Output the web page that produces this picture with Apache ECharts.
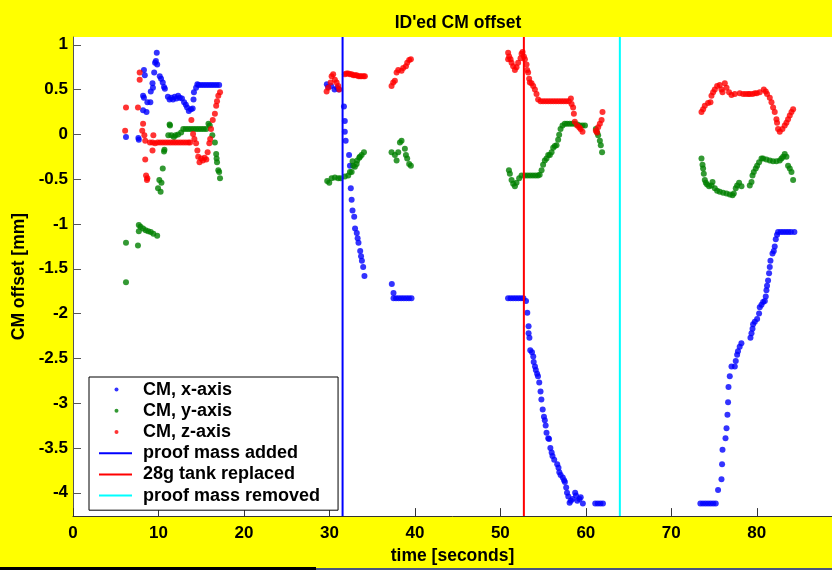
<!DOCTYPE html>
<html>
<head>
<meta charset="utf-8">
<script src="https://cdn.jsdelivr.net/npm/echarts@6/dist/echarts.min.js"></script>
<style>
  html, body { margin: 0; padding: 0; background: #ffff00; }
  #chart { width: 832px; height: 570px; }
</style>
</head>
<body>
<div id="chart"></div>
<script>
// values, [time s, offset mm]
const cmX = [
  [6.2, -0.03], [7.65, -0.04], [7.7, -0.06], [8.3, 0.72], [8.4, 0.66], [8.2, 0.43], [8.3, 0.41],
  [8.2, 0.27], [8.6, 0.25], [8.7, 0.36], [9.05, 0.36], [9.1, 0.48], [9.3, 0.57], [9.35, 0.52],
  [9.5, 0.69], [9.6, 0.80], [9.7, 0.82], [9.85, 0.78], [9.8, 0.91], [10.15, 0.65], [10.3, 0.62],
  [10.5, 0.58], [10.65, 0.53], [10.75, 0.51], [11.1, 0.42], [11.3, 0.39], [11.5, 0.41], [11.7, 0.39],
  [11.9, 0.42], [12.1, 0.40], [12.3, 0.43], [12.5, 0.41], [12.75, 0.40], [13.0, 0.36], [13.2, 0.33],
  [13.35, 0.30], [13.55, 0.26], [13.8, 0.28], [14.0, 0.29], [14.1, 0.39], [14.15, 0.47], [14.4, 0.52],
  [14.55, 0.56], [14.7, 0.55], [15.0, 0.55], [15.3, 0.55], [15.6, 0.55], [15.9, 0.55], [16.2, 0.55],
  [16.5, 0.55], [16.8, 0.55], [17.1, 0.55],
  [29.7, 0.56], [29.85, 0.53], [30.2, 0.54], [30.6, 0.50], [30.9, 0.52], [31.1, 0.50], [31.7, 0.31],
  [31.8, 0.15], [31.8, 0.03], [31.9, -0.07], [32.3, -0.23], [32.4, -0.35], [32.5, -0.60], [32.6, -0.73],
  [32.7, -0.85], [32.9, -0.92], [33.0, -1.05], [33.2, -1.10], [33.3, -1.16], [33.4, -1.21], [33.6, -1.30],
  [33.7, -1.36], [33.8, -1.41], [33.95, -1.48], [34.1, -1.58],
  [37.3, -1.67], [37.5, -1.77], [37.5, -1.83], [37.8, -1.83], [38.1, -1.83], [38.4, -1.83], [38.7, -1.83],
  [39.0, -1.83], [39.3, -1.83], [39.6, -1.83],
  [50.9, -1.83], [51.2, -1.83], [51.5, -1.83], [51.8, -1.83], [52.1, -1.83], [52.4, -1.83], [52.7, -1.83],
  [53.0, -1.86], [53.15, -1.99], [53.3, -2.14], [53.3, -2.22], [53.4, -2.27], [53.5, -2.41], [53.7, -2.43],
  [53.85, -2.48], [53.9, -2.54], [54.05, -2.59], [54.15, -2.63], [54.3, -2.67], [54.4, -2.70], [54.55, -2.77],
  [54.7, -2.87], [54.8, -2.96], [54.95, -3.07], [55.1, -3.15], [55.2, -3.19], [55.3, -3.25], [55.4, -3.33],
  [55.6, -3.39], [55.7, -3.40], [55.85, -3.50], [56.0, -3.55], [56.1, -3.59], [56.3, -3.63], [56.65, -3.68],
  [56.8, -3.72], [56.9, -3.77], [57.05, -3.80], [57.3, -3.83], [57.45, -3.86], [57.55, -3.88], [57.7, -3.94],
  [57.8, -4.00], [57.95, -4.04], [58.1, -4.11], [58.25, -4.09], [58.45, -4.07], [58.75, -4.00], [58.85, -4.03],
  [59.0, -4.09], [59.25, -4.07], [59.4, -4.05], [59.65, -4.12], [61.1, -4.12], [61.4, -4.12], [61.7, -4.12],
  [62.0, -4.12],
  [73.4, -4.12], [73.7, -4.12], [74.0, -4.12], [74.3, -4.12], [74.6, -4.12], [74.9, -4.12], [75.2, -4.12],
  [75.47, -3.97], [75.87, -3.85], [75.94, -3.68], [75.99, -3.52], [76.34, -3.39], [76.46, -3.28], [76.57, -3.13],
  [76.64, -2.99], [76.69, -2.82], [76.84, -2.70], [77.04, -2.59], [77.43, -2.59], [77.54, -2.53], [77.7, -2.46],
  [77.8, -2.42], [78.0, -2.37], [78.2, -2.33], [79.26, -2.27], [79.38, -2.22], [79.5, -2.17], [79.57, -2.12],
  [79.77, -2.09], [80.04, -2.06], [80.27, -2.00], [80.35, -1.93], [80.55, -1.90], [80.74, -1.87], [80.94, -1.86],
  [81.05, -1.81], [81.13, -1.74], [81.2, -1.69], [81.32, -1.63], [81.44, -1.55], [81.52, -1.48], [81.6, -1.41],
  [81.84, -1.33], [81.99, -1.30], [82.1, -1.25], [82.22, -1.17], [82.37, -1.12], [82.49, -1.09], [82.8, -1.09],
  [83.1, -1.09], [83.4, -1.09], [83.7, -1.09], [84.0, -1.09], [84.4, -1.09]
];

const cmY = [
  [6.2, -1.21], [6.2, -1.65], [7.7, -1.01], [7.7, -1.08], [7.6, -1.24], [7.9, -1.03], [8.2, -1.05],
  [8.5, -1.07], [8.8, -1.08], [9.1, -1.09], [9.4, -1.11], [9.85, -1.13], [9.95, -0.60], [10.25, -0.64],
  [10.1, -0.51], [10.35, -0.54], [10.5, -0.38], [10.65, -0.19], [10.7, -0.17], [11.15, -0.01], [11.35, 0.10],
  [11.3, 0.11], [11.5, -0.01], [11.8, -0.03], [12.0, -0.01], [12.3, 0.00], [12.65, 0.02], [12.9, 0.06],
  [13.2, 0.06], [13.5, 0.06], [13.8, 0.06], [14.1, 0.06], [14.4, 0.06], [14.7, 0.06], [15.0, 0.06],
  [15.3, 0.06], [15.6, 0.06], [15.85, 0.12], [16.0, 0.10], [16.3, -0.01], [16.6, -0.09], [16.75, -0.22],
  [16.8, -0.27], [16.85, -0.31], [17.0, -0.40], [17.1, -0.42], [17.2, -0.49],
  [29.74, -0.52], [29.98, -0.54], [30.26, -0.49], [30.64, -0.48], [31.03, -0.49], [31.31, -0.49], [31.81, -0.47],
  [32.2, -0.46], [32.4, -0.42], [32.6, -0.42], [32.71, -0.30], [32.78, -0.35], [32.98, -0.36], [33.18, -0.33],
  [33.25, -0.29], [33.49, -0.26], [33.57, -0.25], [33.77, -0.23], [34.04, -0.20],
  [37.27, -0.20], [37.66, -0.23], [37.86, -0.29], [38.05, -0.20], [38.25, -0.09], [38.44, -0.07], [38.83, -0.16],
  [38.95, -0.23], [39.1, -0.27], [39.33, -0.33], [39.53, -0.35],
  [51.0, -0.40], [51.11, -0.44], [51.31, -0.51], [51.5, -0.55], [51.7, -0.58], [51.89, -0.54], [52.2, -0.49],
  [52.48, -0.46], [52.9, -0.46], [53.2, -0.46], [53.5, -0.46], [53.8, -0.46], [54.1, -0.46], [54.4, -0.46],
  [54.6, -0.45], [54.82, -0.40], [55.0, -0.34], [55.2, -0.29], [55.4, -0.27], [55.6, -0.23], [55.79, -0.23],
  [55.99, -0.20], [56.18, -0.15], [56.37, -0.13], [56.57, -0.12], [56.76, -0.06], [56.88, -0.005], [57.04, 0.06],
  [57.27, 0.10], [57.54, 0.12], [57.8, 0.12], [58.1, 0.12], [58.4, 0.12], [58.7, 0.12], [59.0, 0.11],
  [59.3, 0.10], [59.6, 0.10], [59.9, 0.10],
  [61.17, 0.06], [61.32, 0.02], [61.44, -0.01], [61.64, -0.07], [61.75, -0.12], [61.9, -0.20],
  [73.53, -0.27], [73.65, -0.34], [73.72, -0.38], [73.8, -0.44], [73.92, -0.51], [74.04, -0.54], [74.19, -0.56],
  [74.42, -0.58], [74.7, -0.57], [74.82, -0.53], [75.09, -0.60], [75.36, -0.63], [75.67, -0.64], [76.06, -0.65],
  [76.46, -0.66], [76.84, -0.67], [77.16, -0.68], [77.31, -0.66], [77.54, -0.60], [77.7, -0.57], [77.93, -0.54],
  [78.21, -0.58],
  [79.18, -0.57], [79.38, -0.53], [79.5, -0.46], [79.65, -0.42], [79.88, -0.38], [80.04, -0.35], [80.27, -0.31],
  [80.55, -0.27], [80.74, -0.27], [81.13, -0.28], [81.52, -0.29], [81.9, -0.30], [82.3, -0.30], [82.69, -0.29],
  [82.89, -0.27], [83.08, -0.25], [83.27, -0.22], [83.47, -0.25], [83.66, -0.35], [83.86, -0.38], [84.06, -0.42],
  [84.25, -0.51]
];

const cmZ = [
  [6.2, 0.30], [6.1, 0.04], [7.8, 0.69], [7.8, 0.61], [7.6, 0.30], [8.2, 0.12], [8.1, 0.04], [8.35, -0.01],
  [8.45, -0.07], [8.45, -0.28], [8.55, -0.46], [8.7, -0.49], [8.65, -0.51], [9.3, -0.18], [9.4, -0.01],
  [9.6, -0.10], [9.0, -0.09], [9.3, -0.09], [9.9, -0.09], [10.2, -0.09], [10.5, -0.09], [10.8, -0.09],
  [11.1, -0.09], [11.4, -0.09], [11.7, -0.09], [12.0, -0.09], [12.3, -0.09], [12.6, -0.09], [12.9, -0.09],
  [13.2, -0.09], [13.5, -0.09], [13.7, -0.09], [13.85, 0.16], [14.05, 0.005], [14.2, -0.05], [14.4, -0.10],
  [14.55, -0.18], [14.65, -0.25], [14.8, -0.31], [15.0, -0.27], [15.2, -0.29], [15.4, -0.26], [15.6, -0.28],
  [15.75, -0.20], [15.95, -0.10], [16.05, -0.05], [16.15, 0.06], [16.35, 0.16], [16.6, 0.23], [16.75, 0.32],
  [16.85, 0.37], [17.0, 0.43], [17.2, 0.47],
  [29.67, 0.48], [29.86, 0.52], [30.14, 0.58], [30.26, 0.65], [30.44, 0.67], [30.64, 0.61], [30.84, 0.58],
  [31.03, 0.54], [31.15, 0.50], [31.81, 0.67], [32.0, 0.68], [32.2, 0.68], [32.4, 0.67], [32.6, 0.67],
  [32.8, 0.66], [33.0, 0.66], [33.18, 0.66], [33.4, 0.65], [33.6, 0.65], [33.77, 0.65], [34.0, 0.65],
  [34.15, 0.65],
  [37.27, 0.54], [37.46, 0.58], [37.66, 0.60], [37.86, 0.69], [38.05, 0.72], [38.44, 0.71], [38.63, 0.74],
  [38.95, 0.76], [39.1, 0.80], [39.33, 0.83], [39.53, 0.84],
  [50.91, 0.91], [51.03, 0.87], [50.91, 0.84], [51.19, 0.84], [51.31, 0.80], [51.5, 0.76], [51.7, 0.72],
  [51.89, 0.75], [52.08, 0.80], [52.36, 0.85], [52.48, 0.90], [52.6, 0.92], [52.75, 0.87], [52.87, 0.84],
  [53.06, 0.78], [53.13, 0.72], [53.25, 0.69], [53.37, 0.62], [53.45, 0.58], [53.65, 0.57], [53.84, 0.54],
  [54.04, 0.50], [54.23, 0.45], [54.42, 0.39], [54.7, 0.37], [55.0, 0.37], [55.3, 0.37], [55.6, 0.37],
  [55.9, 0.37], [56.2, 0.37], [56.5, 0.37], [56.8, 0.37], [57.1, 0.37], [57.4, 0.37], [57.7, 0.37],
  [58.0, 0.37], [58.25, 0.40], [58.33, 0.34], [58.51, 0.30], [58.6, 0.23], [58.71, 0.14], [58.98, 0.10],
  [59.22, 0.08], [59.38, 0.06], [59.61, 0.03],
  [61.17, 0.04], [61.32, 0.02], [61.44, 0.08], [61.64, 0.12], [61.84, 0.16], [61.95, 0.25],
  [73.53, 0.25], [73.72, 0.28], [73.92, 0.32], [74.3, 0.35], [74.58, 0.36], [74.7, 0.43], [74.89, 0.47],
  [75.09, 0.50], [75.36, 0.54], [75.67, 0.55], [75.87, 0.50], [75.99, 0.47], [76.26, 0.57], [76.46, 0.52],
  [76.76, 0.47], [77.04, 0.44], [77.43, 0.45], [78.01, 0.46], [78.4, 0.45], [78.7, 0.45], [79.0, 0.45],
  [79.18, 0.45], [79.5, 0.45], [79.77, 0.46], [80.0, 0.46], [80.35, 0.47], [80.82, 0.50], [81.05, 0.48],
  [81.2, 0.45], [81.52, 0.41], [81.72, 0.36], [81.91, 0.30], [82.1, 0.25], [82.3, 0.17], [82.37, 0.13],
  [82.49, 0.06], [82.69, 0.03], [83.0, 0.06], [83.27, 0.10], [83.47, 0.13], [83.66, 0.17], [83.86, 0.21],
  [84.06, 0.25], [84.25, 0.28]
];

// event times (s)
const tProofAdded = 31.54;
const tTankReplaced = 52.75;
const tProofRemoved = 63.98;

const xRange = [0, 88.8];
const yRange = [-4.26, 1.087];
const yTicks = [-4, -3.5, -3, -2.5, -2, -1.5, -1, -0.5, 0, 0.5, 1];

const font = 'Liberation Sans, Arial, sans-serif';
// legend icons: transparent 39x6 box, dot or short bar inside it
const dotIcon = 'path://M0,0M39,6M15.5,3A2,2 0 1,1 19.5,3A2,2 0 1,1 15.5,3Z';
const lineIcon = 'path://M0,0M39,6M0,2H33V4H0Z';

function vline(name, t, color) {
  return {
    name: name,
    type: 'line',
    color: color,
    symbol: 'none',
    silent: true,
    z: 5,
    lineStyle: { width: 2, color: color },
    data: [[t, yRange[0]], [t, yRange[1]]]
  };
}

function dots(name, data, color) {
  return {
    name: name,
    type: 'scatter',
    color: color,
    symbolSize: 6,
    data: data
  };
}

const chart = echarts.init(document.getElementById('chart'), null, { renderer: 'canvas' });

chart.setOption({
  animation: false,
  backgroundColor: '#ffff00',
  title: {
    text: "ID'ed CM offset",
    left: 453,
    textAlign: 'center',
    top: 9,
    textStyle: { fontFamily: font, fontSize: 17.5, fontWeight: 'bold', color: '#000' }
  },
  grid: {
    left: 73,
    right: 0,
    top: 37,
    bottom: 49,
    show: true,
    backgroundColor: '#fff',
    borderWidth: 0
  },
  legend: {
    left: 89,
    top: 377,
    orient: 'vertical',
    selectedMode: false,
    backgroundColor: '#fff',
    borderColor: '#000',
    borderWidth: 1,
    borderRadius: 0,
    padding: [2, 18, 4, 10],
    itemGap: 0,
    itemWidth: 39,
    itemHeight: 6,
    itemStyle: { borderWidth: 0 },
    textStyle: { fontFamily: font, fontSize: 18, fontWeight: 'bold', color: '#000', lineHeight: 21.2 },
    data: [
      { name: 'CM, x-axis', icon: dotIcon },
      { name: 'CM, y-axis', icon: dotIcon },
      { name: 'CM, z-axis', icon: dotIcon },
      { name: 'proof mass added', icon: lineIcon },
      { name: '28g tank replaced', icon: lineIcon },
      { name: 'proof mass removed', icon: lineIcon }
    ]
  },
  xAxis: {
    type: 'value',
    min: xRange[0],
    max: xRange[1],
    interval: 10,
    name: 'time [seconds]',
    nameLocation: 'middle',
    nameGap: 29,
    nameTextStyle: { fontFamily: font, fontSize: 17.5, fontWeight: 'bold', color: '#000' },
    axisLine: { onZero: false, lineStyle: { color: '#333', width: 1 } },
    axisTick: { inside: true, length: 8, lineStyle: { color: '#333' } },
    axisLabel: { fontFamily: font, fontSize: 17, fontWeight: 'bold', color: '#000', margin: 9, showMaxLabel: false },
    splitLine: { show: false }
  },
  yAxis: {
    type: 'value',
    min: yRange[0],
    max: yRange[1],
    name: 'CM offset [mm]',
    nameLocation: 'middle',
    nameGap: 38,
    nameTextStyle: { fontFamily: font, fontSize: 17.5, fontWeight: 'bold', color: '#000' },
    axisLine: { show: true, onZero: false, lineStyle: { color: '#555', width: 1 } },
    axisTick: { show: true, inside: true, length: 8, lineStyle: { color: '#555' }, customValues: yTicks },
    axisLabel: { fontFamily: font, fontSize: 17, fontWeight: 'bold', color: '#000', margin: 5, customValues: yTicks },
    splitLine: { show: false }
  },
  graphic: [
    { type: 'rect', left: 0, top: 567, shape: { width: 316, height: 3 }, style: { fill: '#000' }, silent: true },
    { type: 'rect', left: 316, top: 568, shape: { width: 516, height: 2 }, style: { fill: '#4a5680' }, silent: true }
  ],
  series: [
    dots('CM, x-axis', cmX, '#0000ff'),
    dots('CM, y-axis', cmY, '#008000'),
    dots('CM, z-axis', cmZ, '#ff0000'),
    vline('proof mass added', tProofAdded, '#0000ff'),
    vline('28g tank replaced', tTankReplaced, '#ff0000'),
    vline('proof mass removed', tProofRemoved, '#00ffff')
  ]
});
</script>
</body>
</html>
